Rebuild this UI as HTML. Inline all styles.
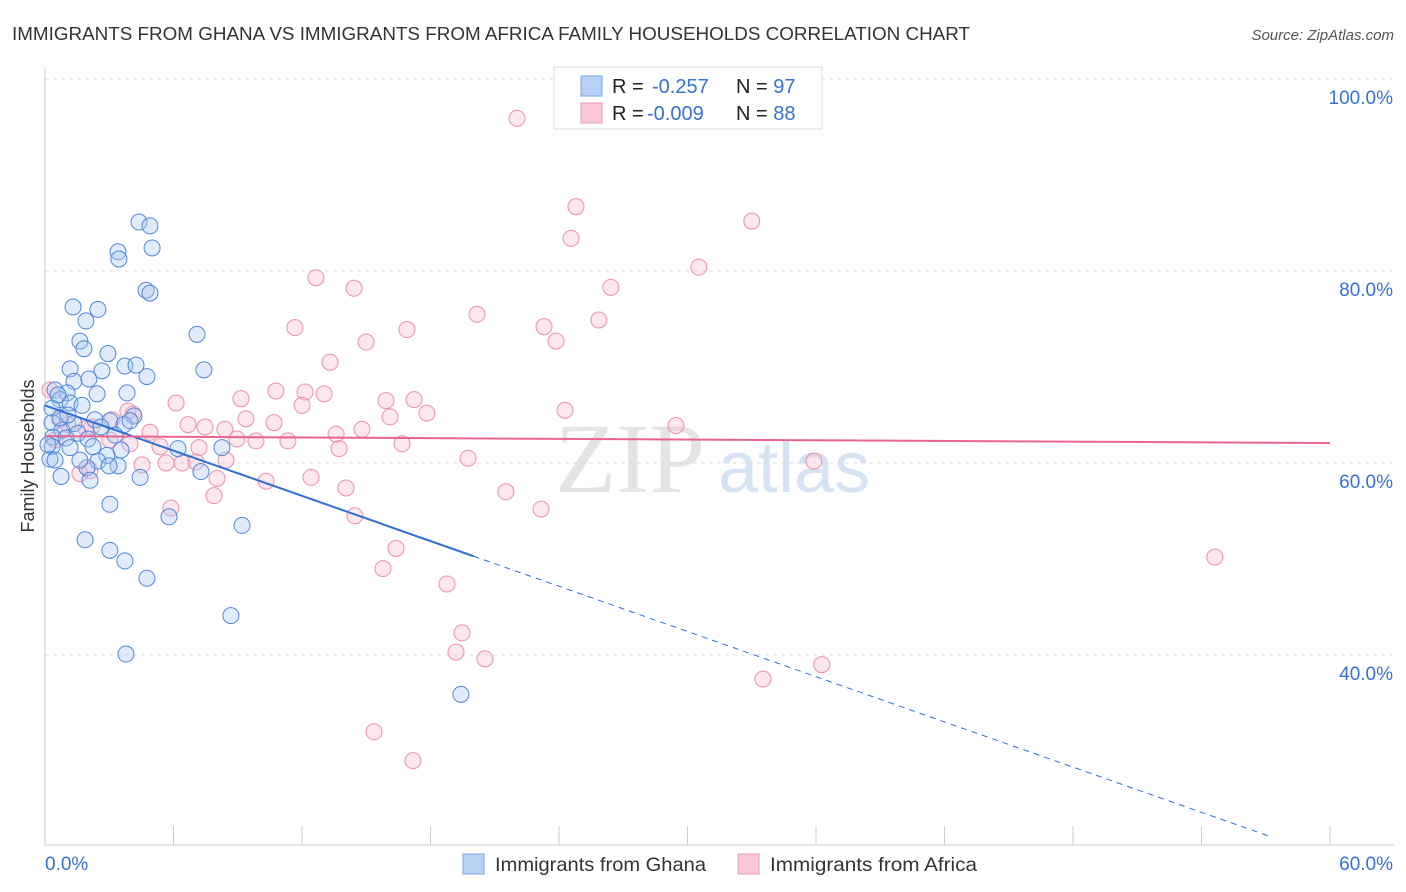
<!DOCTYPE html>
<html><head><meta charset="utf-8"><style>
body{margin:0;background:#fff;font-family:"Liberation Sans",sans-serif;}
#wrap{position:relative;width:1406px;height:892px;overflow:hidden;}
</style></head><body>
<div id="wrap">
<svg id="svg" width="1406" height="892" xmlns="http://www.w3.org/2000/svg">
<text x="12" y="40" font-size="18.5" fill="#333" textLength="958" lengthAdjust="spacingAndGlyphs">IMMIGRANTS FROM GHANA VS IMMIGRANTS FROM AFRICA FAMILY HOUSEHOLDS CORRELATION CHART</text>
<text x="1394" y="40" font-size="15" fill="#555" font-style="italic" text-anchor="end">Source: ZipAtlas.com</text>
<text x="0" y="0" transform="translate(34,456) rotate(-90)" font-size="18" fill="#333" text-anchor="middle">Family Households</text>
<text x="555" y="492" font-size="100" fill="#e4e4e4" font-family="Liberation Serif,serif">ZIP</text>
<text x="718" y="492" font-size="72" fill="#d6e3f5">atlas</text>
<g id="grid"></g><g id="pts"></g><g id="lines"></g>
<g>
<rect x="554" y="67" width="268" height="62" fill="#fff" stroke="#ddd"/>
<rect x="581" y="76" width="21" height="20" fill="#b7d1f5" stroke="#7aa6e6"/>
<rect x="581" y="103" width="21" height="20" fill="#fbc8d8" stroke="#ee9ab5"/>
<text x="612" y="93" font-size="20" fill="#222">R =</text>
<text x="652" y="93" font-size="20" fill="#3572d4">-0.257</text>
<text x="736" y="93" font-size="20" fill="#222">N = <tspan fill="#3572d4">97</tspan></text>
<text x="612" y="120" font-size="20" fill="#222">R =</text>
<text x="647" y="120" font-size="20" fill="#3572d4">-0.009</text>
<text x="736" y="120" font-size="20" fill="#222">N = <tspan fill="#3572d4">88</tspan></text>
</g>
<g>
<rect x="463" y="854" width="21" height="20" fill="#b7d1f5" stroke="#7aa6e6"/>
<text x="495" y="871" font-size="19.5" fill="#333" textLength="211" lengthAdjust="spacingAndGlyphs">Immigrants from Ghana</text>
<rect x="738" y="854" width="21" height="20" fill="#fbc8d8" stroke="#ee9ab5"/>
<text x="770" y="871" font-size="19.5" fill="#333" textLength="207" lengthAdjust="spacingAndGlyphs">Immigrants from Africa</text>
</g>
</svg>
</div>
<script>
const yTicks=[40,60,80,100];
const yTickLabels=["40.0%","60.0%","80.0%","100.0%"];
const xTicks=[0,6,12,18,24,30,36,42,48,54,60];
const ghanaX=[4.39,4.9,5.0,3.41,3.45,4.72,4.9,1.31,2.47,1.91,7.1,1.63,1.82,2.94,1.17,3.73,4.25,7.42,2.66,4.76,1.35,2.05,0.47,1.03,2.43,3.83,0.7,1.17,1.73,0.33,2.33,4.15,3.03,0.33,1.35,2.61,3.69,3.97,0.79,1.54,0.37,2.01,0.98,3.55,6.21,8.26,0.33,1.17,2.89,0.23,2.47,3.41,1.96,2.99,7.28,0.75,2.1,4.44,3.03,5.79,9.2,1.87,3.03,3.73,4.76,8.68,3.78,19.42,0.47,0.14,0.7,1.63,2.24,3.27,0.61,1.07];
const ghanaY=[85.1,84.7,82.4,82.0,81.25,78.0,77.7,76.25,76.0,74.8,73.4,72.7,71.9,71.4,69.8,70.1,70.2,69.7,69.6,69.0,68.5,68.75,67.6,67.3,67.2,67.3,66.6,66.25,66.0,65.7,64.5,64.9,64.4,64.2,64.1,63.75,64.0,64.4,63.4,63.1,62.7,62.5,62.6,61.35,61.5,61.6,61.7,61.6,60.8,60.4,60.2,59.7,59.5,59.7,59.1,58.6,58.2,58.5,55.7,54.4,53.5,52.0,50.9,49.8,48.0,44.1,40.1,35.9,60.3,61.9,64.7,60.3,61.7,62.9,67.1,65.0];
const africaX=[22.04,24.79,33.0,24.56,30.53,12.65,14.43,26.42,20.17,25.86,11.67,23.3,16.9,14.99,23.86,13.31,10.78,12.14,13.03,15.92,9.15,6.12,12.0,17.23,17.83,24.28,16.11,9.38,4.11,3.87,10.69,7.47,6.68,8.4,14.8,4.9,8.96,11.34,13.59,16.67,9.85,29.46,1.07,2.19,5.37,7.19,13.73,0.47,3.03,8.45,19.75,6.4,5.65,4.53,7.05,35.9,10.32,12.42,14.05,8.03,21.52,7.89,23.16,5.88,14.47,16.39,15.78,18.77,54.62,19.47,19.19,20.54,36.27,33.52,15.36,17.18,1.63,0.7,0.23,3.13,3.97,2.1,1.91];
const africaY=[95.9,86.7,85.2,83.4,80.4,79.3,78.2,78.3,75.5,74.9,74.1,74.2,73.9,72.6,72.7,70.5,67.5,67.4,67.2,66.5,66.7,66.25,66.0,66.6,65.2,65.5,64.8,64.6,65.1,65.4,64.2,63.75,64.0,63.5,63.5,63.2,62.5,62.3,63.0,62.0,62.3,63.9,64.0,63.75,61.7,61.6,61.5,62.4,62.4,60.3,60.5,60.0,60.0,59.8,60.1,60.2,58.1,58.5,57.4,58.4,57.0,56.6,55.2,55.3,54.5,51.1,49.0,47.4,50.2,42.3,40.3,39.6,39.0,37.5,32.0,29.0,58.9,64.5,67.6,64.5,62.0,59.2,63.6];
const ghanaFit=[66.0,-0.785];
const africaFit=[62.8,-0.012];
const NS="http://www.w3.org/2000/svg";
const X=v=>45+v*21.417, Y=v=>79+(100-v)*9.6;
function mk(t,a,p){const e=document.createElementNS(NS,t);for(const k in a)e.setAttribute(k,a[k]);p.appendChild(e);return e;}
const grid=document.getElementById('grid');
yTicks.forEach((t,i)=>{
 const l=mk('line',{x1:45,x2:1394,y1:Y(t),y2:Y(t),stroke:'#ddd','stroke-dasharray':'4,4'},grid);
 
 
 const tx=mk('text',{x:1393,y:Y(t)+25,'font-size':19,fill:'#3572d4','text-anchor':'end'},grid);
 tx.textContent=yTickLabels[i];
 
 
});
const ax=mk('line',{x1:45,x2:1394,y1:845,y2:845,stroke:'#ccc'},grid);


const ay=mk('line',{x1:45,x2:45,y1:68,y2:845,stroke:'#ccc'},grid);


xTicks.forEach(t=>{
 const l=mk('line',{x1:X(t),x2:X(t),y1:826,y2:845,stroke:'#ccc'},grid);
 
 
});
const xl0=mk('text',{x:45,y:870,'font-size':19,fill:'#3572d4'},grid);xl0.textContent='0.0%';


const xl1=mk('text',{x:1393,y:870,'font-size':19,fill:'#3572d4','text-anchor':'end'},grid);xl1.textContent='60.0%';


const pts=document.getElementById('pts');
function dots(xs,ys,fill,stroke,name){xs.forEach((x,i)=>{
 const c=mk('circle',{cx:X(x),cy:Y(ys[i]),r:8,fill:fill,'fill-opacity':0.35,stroke:stroke,'stroke-width':1},pts);
 
 
});}
dots(africaX,africaY,'#f9b9cd','#ec8fae','africa-point');
dots(ghanaX,ghanaY,'#a9c8f2','#4f87d9','ghana-point');
const lines=document.getElementById('lines');
const gf=x=>ghanaFit[0]+ghanaFit[1]*x;
const g1=mk('line',{x1:X(0),y1:Y(gf(0)),x2:X(20),y2:Y(gf(20)),stroke:'#2f6fd6','stroke-width':2},lines);


const g2=mk('line',{x1:X(20),y1:Y(gf(20)),x2:X(57.3),y2:Y(gf(57.3)),stroke:'#2f6fd6','stroke-width':1,'stroke-dasharray':'6,5'},lines);


const af=x=>africaFit[0]+africaFit[1]*x;
const a1=mk('line',{x1:X(0),y1:Y(af(0)),x2:X(60),y2:Y(af(60)),stroke:'#e8648f','stroke-width':2},lines);


</script>
</body></html>
